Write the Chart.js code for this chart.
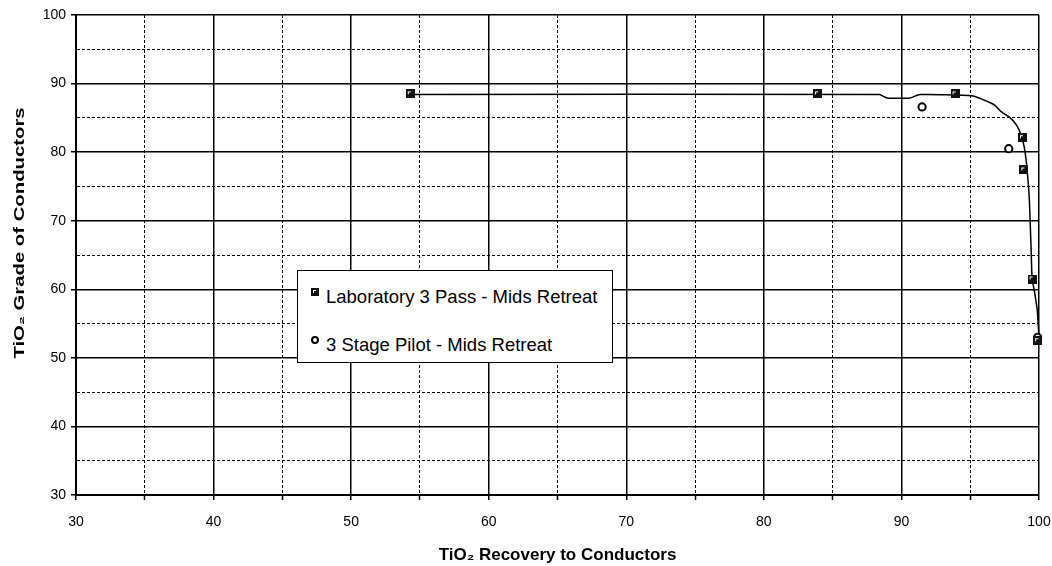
<!DOCTYPE html>
<html lang="en">
<head>
<meta charset="UTF-8">
<title>TiO2 Grade vs Recovery</title>
<script src="https://cdn.jsdelivr.net/npm/chart.js"></script>
<style>
    body { margin: 0; background: #fff; }
    .grafico { position: relative; width: 1052px; height: 566px; }
    .legenda {
        position: absolute; left: 297px; top: 270px; width: 316px; height: 93px;
        border: 1.5px solid #000; background: #fff; box-sizing: border-box;
        font: 18.5px "Liberation Sans", Arial, sans-serif; color: #000;
    }
    .legenda .txt { position: absolute; left: 28px; line-height: 20px; white-space: nowrap; }
    .legenda .quadrado { position: absolute; left: 13px; top: 17px; width: 8px; height: 8px; background: #111; }
    .legenda .quadrado::after { content: ""; position: absolute; left: 2px; top: 2px; width: 2px; height: 2px; border-left: 1px solid #fff; border-top: 1px solid #fff; }
    .legenda .circulo { position: absolute; left: 13px; top: 65px; width: 4px; height: 4px; border: 2px solid #000; border-radius: 50%; background: #fff; }
</style>
</head>
<body>
<div class="grafico">
    <canvas id="graficoTio2"></canvas>
    <!-- legenda dentro da area do grafico -->
    <div class="legenda">
        <span class="quadrado"></span>
        <span class="txt" style="top:16px">Laboratory 3 Pass - Mids Retreat</span>
        <span class="circulo"></span>
        <span class="txt" style="top:64px">3 Stage Pilot - Mids Retreat</span>
    </div>
</div>
<script>
// pontos do laboratorio
const recLab = [54.3, 83.9, 93.9, 98.8, 98.9, 99.5, 99.9];
const gradeLab = [88.5, 88.5, 88.5, 82.1, 77.4, 61.5, 52.5];

// pontos do piloto
const recPiloto = [91.5, 97.8, 99.9];
const gradePiloto = [86.6, 80.5, 53.0];

// curva de tendencia
const recCurva = [54.3, 88.4, 88.95, 90.6, 91.35, 95.2, 96.0, 96.75, 97.25, 97.85, 98.35, 98.7, 98.92, 99.06, 99.2, 99.3, 99.43, 99.5, 99.65, 99.87, 100.0];
const gradeCurva = [88.4, 88.4, 87.9, 87.9, 88.4, 88.2, 87.6, 86.9, 85.9, 85.1, 84.0, 82.5, 80.8, 78.9, 75.9, 73.0, 65.7, 61.5, 59.9, 57.0, 53.0];

// eixos
const eixoMin = 30;
const eixoMax = 100;
const passoMenor = 5;
const passoMaior = 10;

const fonte = '"Liberation Sans", Arial, sans-serif';

function juntar(xs, ys) {
    return xs.map((x, i) => ({ x: x, y: ys[i] }));
}

// marcador quadrado preto com canto branco
function marcadorQuadrado() {
    const c = document.createElement('canvas');
    c.width = 9; c.height = 9;
    const g = c.getContext('2d');
    g.fillStyle = '#111';
    g.fillRect(0, 0, 9, 9);
    g.fillStyle = '#fff';
    g.fillRect(2, 2, 3, 1);
    g.fillRect(2, 2, 1, 3);
    return c;
}

function ehMaior(ctx) {
    return ctx.tick && ctx.tick.value % passoMaior === 0;
}

// titulo do eixo Y desenhado a mao (esticado como no original)
const tituloEixoY = {
    id: 'tituloEixoY',
    afterDraw(chart) {
        const ctx = chart.ctx;
        ctx.save();
        ctx.translate(20, 233);
        ctx.rotate(-Math.PI / 2);
        ctx.scale(1.45, 1);
        ctx.font = 'bold 14px ' + fonte;
        ctx.fillStyle = '#000';
        ctx.textAlign = 'center';
        ctx.textBaseline = 'middle';
        ctx.fillText('TiO₂ Grade of Conductors', 0, 0);
        ctx.restore();
    }
};

function configEixo(eixoX) {
    return {
        type: 'linear',
        min: eixoMin,
        max: eixoMax,
        ticks: {
            stepSize: passoMenor,
            color: '#000',
            padding: eixoX ? 14 : 5,
            font: { family: fonte, size: 14 },
            callback: v => (v % passoMaior === 0 ? v : '')
        },
        grid: {
            color: '#000',
            lineWidth: ctx => (ehMaior(ctx) ? 1.5 : 1),
            tickLength: 5,
            tickColor: ctx => (eixoX || ehMaior(ctx) ? '#000' : 'rgba(0,0,0,0)'),
            tickWidth: 1.5
        },
        border: {
            display: true,
            color: '#000',
            width: 2,
            dash: ctx => (ctx.tick && !ehMaior(ctx) ? [3, 2] : [])
        },
        title: eixoX ? {
            display: true,
            text: 'TiO₂ Recovery to Conductors',
            color: '#000',
            font: { family: fonte, size: 17, weight: 'bold' },
            padding: { top: 6, bottom: 0 }
        } : { display: false },
        afterFit: function (scale) {
            if (eixoX) {
                scale.height = 71;
                scale.paddingLeft = 0;
                scale.paddingRight = 0;
            } else {
                scale.width = 76;
                scale.paddingTop = 0;
                scale.paddingBottom = 0;
            }
        }
    };
}

const dadosGrafico = {
    datasets: [
        {
            label: 'Laboratory 3 Pass - Mids Retreat',
            data: juntar(recLab, gradeLab),
            pointStyle: marcadorQuadrado(),
            pointRadius: 4.5,
            showLine: false,
            clip: false,
            order: 1
        },
        {
            label: '3 Stage Pilot - Mids Retreat',
            data: juntar(recPiloto, gradePiloto),
            pointStyle: 'circle',
            pointRadius: 3.6,
            pointBorderWidth: 2,
            pointBorderColor: '#000',
            pointBackgroundColor: '#fff',
            showLine: false,
            clip: false,
            order: 1
        },
        {
            label: 'curva',
            data: juntar(recCurva, gradeCurva),
            showLine: true,
            borderColor: '#000',
            borderWidth: 1.5,
            pointRadius: 0,
            tension: 0.2,
            clip: false,
            order: 2
        }
    ]
};

const configGrafico = {
    type: 'scatter',
    data: dadosGrafico,
    options: {
        responsive: true,
        maintainAspectRatio: false,
        animation: false,
        layout: { padding: { top: 15, right: 13, left: 0, bottom: 0 } },
        plugins: {
            legend: { display: false },
            tooltip: { enabled: false }
        },
        scales: {
            x: configEixo(true),
            y: configEixo(false)
        }
    },
    plugins: [tituloEixoY]
};

let meuGrafico = new Chart(document.getElementById('graficoTio2'), configGrafico);
</script>
</body>
</html>
